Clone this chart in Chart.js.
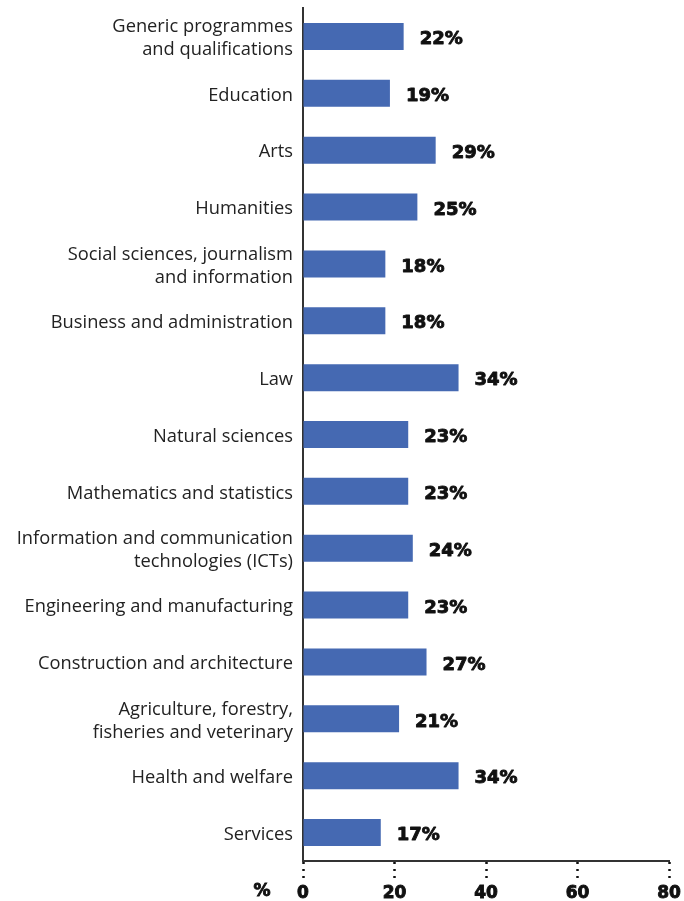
<!DOCTYPE html>
<html>
<head>
<meta charset="utf-8">
<script src="https://cdn.jsdelivr.net/npm/chart.js@4.4.1/dist/chart.umd.min.js"></script>
<style>
  html, body { margin: 0; padding: 0; background: #fff; }
  #wrap { width: 684px; height: 901px; position: relative; }
</style>
</head>
<body>
<div id="wrap"><canvas id="bars"></canvas></div>
<script>
const categories = [
  ['Generic programmes', 'and qualifications'],
  'Education',
  'Arts',
  'Humanities',
  ['Social sciences, journalism', 'and information'],
  'Business and administration',
  'Law',
  'Natural sciences',
  'Mathematics and statistics',
  ['Information and communication', 'technologies (ICTs)'],
  'Engineering and manufacturing',
  'Construction and architecture',
  ['Agriculture, forestry,', 'fisheries and veterinary'],
  'Health and welfare',
  'Services'
];
const shares = [22, 19, 29, 25, 18, 18, 34, 23, 23, 24, 23, 27, 21, 34, 17];
const xTicks = [0, 20, 40, 60, 80];

const barBlue = '#4569b2';
const ink = '#111';

// heavy text: bold fill plus a thin stroke in the same colour
function heavyText(ctx, text, x, y) {
  ctx.fillText(text, x, y);
  ctx.strokeText(text, x, y);
}

// value labels after each bar + the "%" unit under the axis
const valueLabels = {
  id: 'valueLabels',
  afterDatasetsDraw(chart) {
    const { ctx } = chart;
    const meta = chart.getDatasetMeta(0);
    ctx.save();
    ctx.font = 'bold 18px "DejaVu Sans"';
    ctx.fillStyle = ink;
    ctx.strokeStyle = ink;
    ctx.lineWidth = 0.9;
    ctx.lineJoin = 'round';
    ctx.textAlign = 'left';
    ctx.textBaseline = 'middle';
    meta.data.forEach((bar, i) => {
      heavyText(ctx, shares[i] + '%', bar.x + 16, bar.y + 3);
    });
    ctx.restore();
  },
  afterDraw(chart) {
    const { ctx } = chart;
    ctx.save();
    ctx.font = 'bold 17px "DejaVu Sans"';
    ctx.fillStyle = ink;
    ctx.strokeStyle = ink;
    ctx.lineWidth = 0.9;
    ctx.textAlign = 'center';
    ctx.textBaseline = 'middle';
    heavyText(ctx, '%', 262, 892);
    ctx.restore();
  }
};

new Chart(document.getElementById('bars'), {
  type: 'bar',
  data: {
    labels: categories,
    datasets: [{
      data: shares,
      backgroundColor: barBlue,
      borderWidth: 0,
      barPercentage: 0.475,
      categoryPercentage: 1
    }]
  },
  options: {
    indexAxis: 'y',
    responsive: true,
    maintainAspectRatio: false,
    animation: false,
    layout: { padding: { top: 8, right: 15, left: 0, bottom: 0 } },
    plugins: {
      legend: { display: false },
      tooltip: { enabled: false }
    },
    scales: {
      x: {
        min: 0,
        max: 80,
        afterBuildTicks(scale) {
          scale.ticks = xTicks.map(v => ({ value: v }));
        },
        afterFit(scale) {
          scale.height = 40;
          scale.paddingLeft = 0;
          scale.paddingRight = 0;
        },
        border: { display: true, color: '#333', width: 2 },
        grid: {
          drawOnChartArea: false,
          drawTicks: true,
          tickLength: 17,
          tickBorderDash: [2, 5],
          tickColor: ink,
          tickWidth: 2.5
        },
        ticks: {
          color: ink,
          padding: 5,
          maxRotation: 0,
          textStrokeColor: ink,
          textStrokeWidth: 0.9,
          font: { family: 'DejaVu Sans', size: 17, weight: 'bold' }
        }
      },
      y: {
        afterFit(scale) {
          scale.width = 303;
          scale.paddingTop = 0;
          scale.paddingBottom = 0;
        },
        border: { display: true, color: '#333', width: 2 },
        grid: { display: false, drawTicks: false },
        ticks: {
          color: '#222',
          padding: 10,
          labelOffset: 2,
          font: { family: 'Open Sans', size: 18.3, lineHeight: 1.26 }
        }
      }
    }
  },
  plugins: [valueLabels]
});
</script>
</body>
</html>
